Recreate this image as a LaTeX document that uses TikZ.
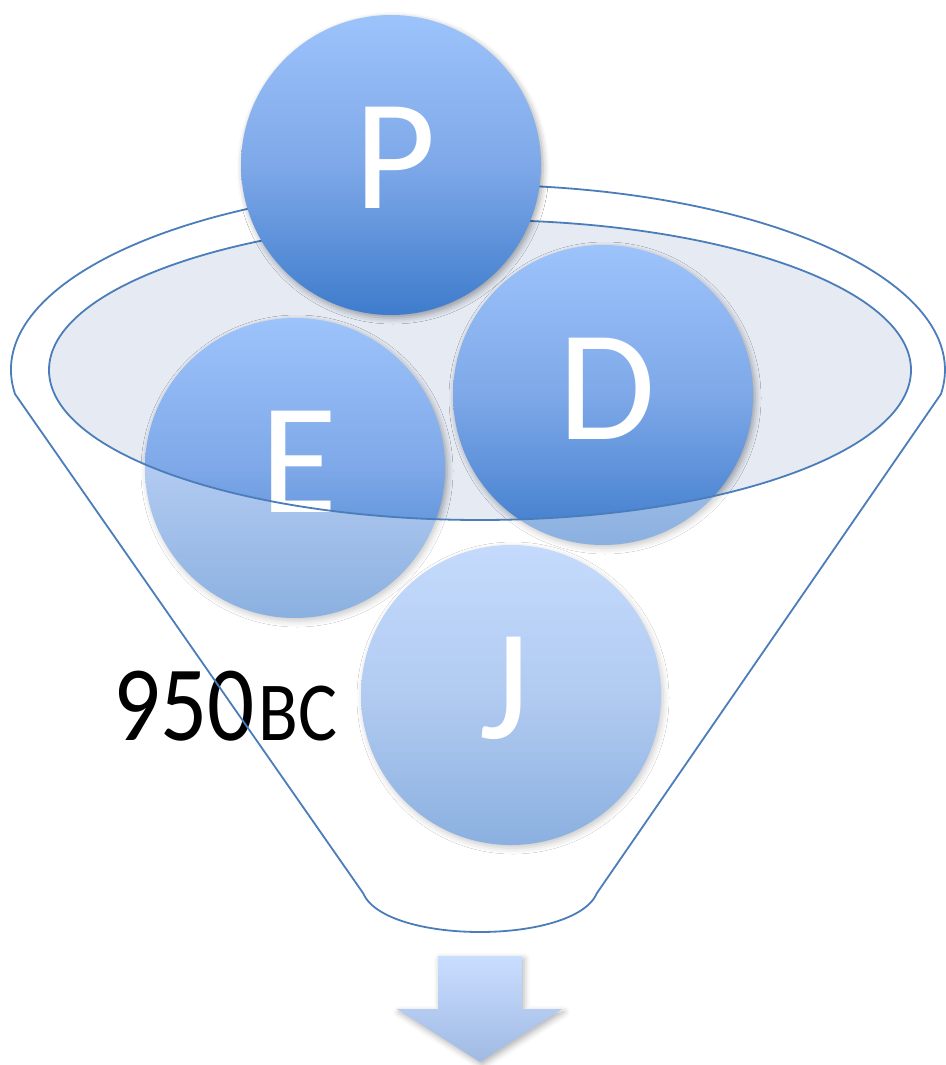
\documentclass[tikz,border=0pt]{standalone}
\usepackage{graphicx}
\usepackage{fontspec}
\setmainfont{Carlito}
\usetikzlibrary{shadows.blur}
\definecolor{fline}{HTML}{4A7DBA}
\definecolor{ellfill}{HTML}{E5EAF3}
\definecolor{btop}{HTML}{9DC3FB}
\definecolor{bmid}{HTML}{7EA8E8}
\definecolor{bbot}{HTML}{3E7CCC}
\definecolor{atop}{HTML}{C9DDFF}
\definecolor{abot}{HTML}{A0BAE3}
\tikzset{
  ball/.style={circle, draw=none, inner sep=0pt, minimum size=150pt,
    top color=btop, bottom color=bbot, middle color=bmid,
    blur shadow={shadow xshift=1pt, shadow yshift=-1.5pt, shadow blur radius=3pt, shadow opacity=35}},
  lbl/.style={text=white, inner sep=0pt, font=\fontsize{79}{80}\selectfont},
  funline/.style={draw=fline, line width=0.9pt},
}
\begin{document}
\begin{tikzpicture}[x=0.5pt, y=-0.5pt]
\useasboundingbox (0,0) rectangle (946,1065);
% funnel body (white) and inner ellipse fill
\fill[white] (15,394) arc[start angle=172.5, end angle=367.5, x radius=467, y radius=185]
  -- (597,893) .. controls (575,945) and (385,945) .. (363,893) -- cycle;
\fill[ellfill] (480,370) ellipse [x radius=431, y radius=150];
% balls inside the funnel
\node[ball] (E) at (295,468) {};
\node[ball] (D) at (603,395) {};
\node[ball] (J) at (511,695) {};
% translucent front of the funnel body
\fill[white, fill opacity=0.4, even odd rule]
  (15,394) arc[start angle=172.5, end angle=367.5, x radius=467, y radius=185]
  -- (597,893) .. controls (575,945) and (385,945) .. (363,893) -- cycle
  (480,370) ellipse [x radius=431, y radius=150];
% labels
\node[lbl] (Et) at ([shift={(4,-6)}]E.center) {E};
\node[lbl] (Dt) at ([shift={(4,-6)}]D.center) {D};
\node[lbl] (Jt) at ([shift={(-6,-7)}]J.center) {J};
\node[anchor=base west, inner sep=0pt] (yr) at (113,740)
  {\scalebox{0.87}[1]{\fontsize{53.5}{60}\selectfont 950\kern2pt\fontsize{42}{48}\selectfont BC}};
% funnel outline
\draw[funline] (15,394) arc[start angle=172.5, end angle=367.5, x radius=467, y radius=185]
  -- (597,893) .. controls (575,945) and (385,945) .. (363,893) -- cycle;
\draw[funline] (480,370) ellipse [x radius=431, y radius=150];
% top ball
\node[ball] (P) at (391,165) {};
\node[lbl] (Pt) at ([shift={(4,-7)}]P.center) {P};
% arrow
\path[top color=atop, bottom color=abot,
  blur shadow={shadow xshift=1pt, shadow yshift=-1.5pt, shadow blur radius=3pt, shadow opacity=30}]
  (438,956) -- (522,956) -- (522,1009) -- (562,1009) -- (480,1062) -- (397,1009) -- (438,1009) -- cycle;
\end{tikzpicture}
\end{document}
